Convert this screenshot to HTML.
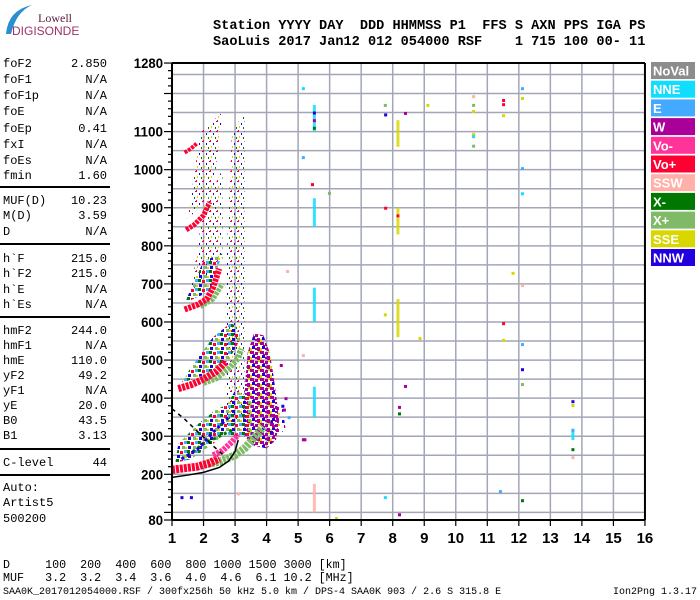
<!DOCTYPE html>
<html><head><meta charset="utf-8"><style>
body{margin:0;width:700px;height:600px;background:#fff;overflow:hidden;position:relative;font-family:"Liberation Mono",monospace;}
.t{position:absolute;white-space:pre;font-family:"Liberation Mono",monospace;color:#000;}
.lp{position:absolute;left:3px;width:104px;font-size:12px;height:15px;line-height:15px;font-family:"Liberation Mono",monospace;}
.lp span{position:absolute;right:0;top:0;}
.hr{position:absolute;left:0;width:110px;height:0;border-top:2px solid #000;}
</style></head><body>
<svg style="position:absolute;left:0;top:0" width="90" height="45">
<path d="M6 34 Q8 10 32 5 Q16 12 11 34 Z" fill="#2a8fd0"/>
<text x="72" y="22" font-family="Liberation Serif,serif" font-size="12" fill="#5a2040" text-anchor="end">Lowell</text>
<text x="12" y="35" font-family="Liberation Sans,sans-serif" font-size="12" fill="#a0306a">DIGISONDE</text>
</svg>
<div class="t" style="left:213px;top:19px;font-size:13.6px;font-weight:bold;">Station YYYY DAY  DDD HHMMSS P1  FFS S AXN PPS IGA PS</div>
<div class="t" style="left:213px;top:35px;font-size:13.6px;font-weight:bold;">SaoLuis 2017 Jan12 012 054000 RSF    1 715 100 00- 11</div>
<div id="lp"></div>
<svg id="ch" style="position:absolute;left:0;top:0" width="700" height="600"></svg>
<div class="t" style="left:3px;top:558px;font-size:11.7px;">D     100  200  400  600  800 1000 1500 3000 [km]</div>
<div class="t" style="left:3px;top:571px;font-size:11.7px;">MUF   3.2  3.2  3.4  3.6  4.0  4.6  6.1 10.2 [MHz]</div>
<div class="t" style="left:3px;top:587px;font-size:10px;">SAA0K_2017012054000.RSF / 300fx256h 50 kHz 5.0 km / DPS-4 SAA0K 903 / 2.6 S 315.8 E</div>
<div class="t" style="right:3px;top:587px;font-size:10px;">Ion2Png 1.3.17</div>
<script>
// ---- parameter panel ----
const paramNames=["foF2","foF1","foF1p","foE","foEp","fxI","foEs","fmin","MUF(D)","M(D)","D","h`F","h`F2","h`E","h`Es","hmF2","hmF1","hmE","yF2","yF1","yE","B0","B1","C-level","Auto:","Artist5","500200"];
const paramValues=["2.850","N/A","N/A","N/A","0.41","N/A","N/A","1.60","10.23","3.59","N/A","215.0","215.0","N/A","N/A","244.0","N/A","110.0","49.2","N/A","20.0","43.5","3.13","44","","",""];
const paramRowY=[57,73,89,105,122,138,154,169,194,209,225,252,267,283,298,324,339,354,369,384,399,414,429,456,481,496,512];
const ruleY=[186,243,316,448,474];
const lp=document.getElementById('lp');
paramNames.forEach((n,i)=>{const d=document.createElement('div');d.className='lp';d.style.top=paramRowY[i]+'px';d.textContent=n;


if(paramValues[i]){const s=document.createElement('span');s.textContent=paramValues[i];d.appendChild(s);}lp.appendChild(d);});
ruleY.forEach(y=>{const d=document.createElement('div');d.className='hr';d.style.top=y+'px';


lp.appendChild(d);});

// ---- chart data ----
const xTicks=[1,2,3,4,5,6,7,8,9,10,11,12,13,14,15,16];
const yLabels=[80,200,300,400,500,600,700,800,900,1000,1100,1280];
const legendNames=["NoVal","NNE","E","W","Vo-","Vo+","SSW","X-","X+","SSE","NNW"];
const legendColors=["#8c8c8c","#11ddff","#44aaff","#aa0099","#ff3399","#ff0033","#ffb0a8","#007700","#7fbb66","#d8d800","#2200dd"];
const C={NNE:"#11ddff",E:"#44aaff",W:"#aa0099",Vm:"#ff3399",Vp:"#ff0033",SSW:"#ffb0a8",Xm:"#007700",Xp:"#7fbb66",SSE:"#d8d800",NNW:"#2200dd"};
const traceColors=["Xp","Vp","Vm","Xp","Vp","Xp","Vp","Vp","Vp","Xm","NNW"];
const traceWidths=[8,8,6,6,7,5,6,5,4,3,3];
const tracePoints=[
 [[2.0,225],[2.5,233],[3.0,250],[3.3,268],[3.6,295],[3.9,325]],
 [[1.0,212],[1.4,216],[1.8,220],[2.2,230],[2.5,242]],
 [[2.3,250],[2.6,262],[2.9,285],[3.1,305]],
 [[2.0,440],[2.4,452],[2.8,478],[3.1,505],[3.2,530]],
 [[1.2,425],[1.6,435],[2.0,450],[2.4,470],[2.7,495]],
 [[1.9,640],[2.3,660],[2.6,700]],
 [[1.4,633],[1.8,645],[2.1,660],[2.3,690],[2.5,740]],
 [[1.45,842],[1.7,855],[2.0,880],[2.2,915]],
 [[1.4,1045],[1.6,1055],[1.8,1070]],
 [[1.5,250],[2.0,280],[2.5,300],[3.0,320]],
 [[1.3,240],[1.8,265],[2.3,310],[2.8,350]]
];
const blobPatterns=["pW","pMix","pSparse","pMix","pMix","pSparse","pSparse","pW2","pMix"];
const blobPolys=[
 [[3.3,300],[3.6,275],[4.0,268],[4.3,290],[4.4,340],[4.3,410],[4.2,470],[4.1,520],[3.9,565],[3.6,570],[3.4,520],[3.3,420]],
 [[1.1,230],[1.6,240],[2.3,280],[3.0,330],[3.3,380],[3.2,400],[2.4,370],[1.8,330],[1.2,280]],
 [[2.7,330],[3.3,330],[3.3,1150],[2.9,1100],[2.7,700]],
 [[2.8,300],[3.5,300],[3.5,400],[3.0,420],[2.6,360]],
 [[1.3,440],[2.0,460],[2.8,500],[3.2,560],[2.9,600],[2.3,560],[1.6,480]],
 [[1.6,680],[2.6,760],[2.6,1000],[2.0,900]],
 [[1.5,870],[2.3,940],[2.6,1150],[1.9,1100]],
 [[4.0,270],[4.6,320],[4.5,380],[4.2,380]],
 [[1.4,650],[2.2,680],[2.6,780],[2.0,760]]
];
const colF=[5.5,5.5,5.5,5.5,5.5,8.15,8.15,8.15,13.7];
const colLo=[1100,850,600,350,100,1060,830,560,290];
const colHi=[1170,925,690,430,175,1130,900,660,320];
const colC=["NNE","NNE","NNE","NNE","SSW","SSE","SSE","SSE","NNE"];
const dotF=[7.75,7.76,7.76,7.75,7.75,13.7,13.7,13.7,13.7,13.7,12.1,12.1,12.1,12.1,12.1,12.1,12.1,12.1,12.1,11.5,11.5,11.5,11.5,11.5,10.55,10.55,10.55,10.55,10.55,10.55,9.1,8.85,5.15,5.15,5.15,5.44,5.98,4.65,4.45,5.15,8.39,8.39,11.8,11.4,6.2,4.5,4.55,4.6,4.7,5.2,5.5,5.5,5.5,8.2,8.2,8.2,8.15,1.3,1.6,3.1];
const dotH=[1170,1145,900,620,140,392,382,316,266,245,1214,1188,1004,938,697,542,476,437,132,1183,1172,1143,597,553,1193,1170,1154,1094,1088,1063,1170,558,1214,1033,513,962,939,734,487,292,1149,432,729,156,85,380,370,400,350,292,1130,1150,1110,377,360,95,880,140,140,150];
const dotC=["Xp","NNW","Vp","SSE","NNE","NNW","SSE","E","Xm","SSW","E","SSE","E","NNE","SSW","E","NNW","Xp","Xm","Vp","Vp","SSE","Vp","SSE","SSW","Xp","SSE","SSE","NNE","Xp","SSE","SSE","NNE","E","SSW","Vp","Xp","SSW","W","W","W","W","SSE","E","SSE","NNW","W","W","E","W","W","NNW","Xm","W","Xm","W","Vp","NNW","NNW","SSW"];

const fx=f=>172+(f-1)*31.53;
const hy=h=>520-(h-80)*0.3808;
const NS="http://www.w3.org/2000/svg";
const svg=document.getElementById('ch');
function mk(tag,attrs,parent){const e=document.createElementNS(NS,tag);for(const k in attrs)e.setAttribute(k,attrs[k]);(parent||svg).appendChild(e);return e;}

const defs=mk('defs',{});
function pattern(id,w,h,rects){const p=mk('pattern',{id:id,width:w,height:h,patternUnits:'userSpaceOnUse'},defs);rects.forEach(r=>mk('rect',{x:r[0],y:r[1],width:r[2],height:r[3],fill:r[4]},p));}
pattern('pW',10,9,[[0,0,4,3,C.W],[5,1,3,3,C.W],[2,4,3,3,C.NNW],[7,5,3,4,C.W],[0,6,2,3,C.SSE],[5,6,2,2,C.W],[8,0,2,2,C.SSE],[3,3,2,1,C.W]]);
pattern('pW2',12,11,[[0,0,3,3,C.W],[6,2,3,3,C.NNW],[2,6,2,2,C.SSE],[8,7,3,3,C.W]]);
pattern('pMix',11,9,[[0,0,3,3,C.Xm],[4,1,3,3,C.Vp],[8,0,3,3,C.E],[1,5,3,3,C.NNW],[6,5,3,3,C.Xp],[9,6,2,2,C.SSE]]);
pattern('pSparse',7,10,[[0,0,1,2,C.Vp],[3,3,1,2,C.NNW],[5,7,1,2,C.Xm],[1,6,1,2,C.SSE],[6,1,1,1,C.W]]);

const g=mk('g',{});


xTicks.forEach(f=>mk('line',{x1:fx(f),x2:fx(f),y1:hy(1280),y2:hy(80),stroke:'#a2a6b6','stroke-width':1.5},g));
for(let h=100;h<=1250;h+=50)mk('line',{x1:fx(1),x2:fx(16),y1:hy(h),y2:hy(h),stroke:'#a2a6b6','stroke-width':1.5},g);

blobPolys.forEach((poly,i)=>{const p=mk('polygon',{points:poly.map(q=>fx(q[0])+','+hy(q[1])).join(' '),fill:'url(#'+blobPatterns[i]+')'});

});
tracePoints.forEach((pts,i)=>{const p=mk('polyline',{points:pts.map(q=>fx(q[0])+','+hy(q[1])).join(' '),fill:'none',stroke:C[traceColors[i]],'stroke-width':traceWidths[i],'stroke-linejoin':'round','stroke-dasharray':traceWidths[i]<=3?'3 3':'3 1'});

});
colF.forEach((f,i)=>{const r=mk('rect',{x:fx(f)-1,y:hy(colHi[i]),width:3,height:hy(colLo[i])-hy(colHi[i]),fill:C[colC[i]],'fill-opacity':0.85});

});
dotF.forEach((f,i)=>{const r=mk('rect',{x:fx(f)-1,y:hy(dotH[i])-1,width:3,height:3,fill:C[dotC[i]]});

});
const solidCurve=[[1.0,192],[1.5,198],[2.0,205],[2.5,218],[2.8,235],[3.0,260],[3.1,290]];
const dashCurve=[[1.0,372],[1.4,345],[1.9,305],[2.3,275],[2.7,245]];
let c1=mk('polyline',{points:solidCurve.map(q=>fx(q[0])+','+hy(q[1])).join(' '),fill:'none',stroke:'#000','stroke-width':1.5});


let c2=mk('polyline',{points:dashCurve.map(q=>fx(q[0])+','+hy(q[1])).join(' '),fill:'none',stroke:'#000','stroke-width':1.5,'stroke-dasharray':'4 4'});



const fr=mk('g',{});


mk('line',{x1:fx(1),x2:fx(16),y1:hy(1280),y2:hy(1280),stroke:'#000','stroke-width':2},fr);
mk('line',{x1:fx(1),x2:fx(16),y1:hy(80),y2:hy(80),stroke:'#000','stroke-width':2},fr);
mk('line',{x1:fx(1),x2:fx(1),y1:hy(1280),y2:hy(80),stroke:'#000','stroke-width':2},fr);
mk('line',{x1:fx(16),x2:fx(16),y1:hy(1280),y2:hy(80),stroke:'#000','stroke-width':2},fr);
for(let h=80;h<=1280;h+=20){const major=(h%100===0)||h===80||h===1280;mk('line',{x1:fx(1)-(major?8:4),x2:fx(1),y1:hy(h),y2:hy(h),stroke:'#000','stroke-width':1.2},fr);}
yLabels.forEach(h=>{const s=String(h);const t=mk('text',{x:163,y:hy(h)+5,'text-anchor':'end','font-family':'Liberation Sans,sans-serif','font-weight':'bold','font-size':14,textLength:s.length*7.3,lengthAdjust:'spacingAndGlyphs'});t.textContent=s;

});
xTicks.forEach(f=>{mk('line',{x1:fx(f),x2:fx(f),y1:hy(80),y2:hy(80)+6,stroke:'#000','stroke-width':1.2},fr);
const t=mk('text',{x:fx(f),y:543,'text-anchor':'middle','font-family':'Liberation Sans,sans-serif','font-weight':'bold','font-size':15});t.textContent=f;

});

legendNames.forEach((n,i)=>{const y=62+i*18.7;
const r=mk('rect',{x:651,y:y,width:44,height:17,fill:legendColors[i]});


const t=mk('text',{x:653,y:y+13.5,'font-family':'Liberation Sans,sans-serif','font-weight':'bold','font-size':13,fill:'#fff'});t.textContent=n;

});
</script>
</body></html>
